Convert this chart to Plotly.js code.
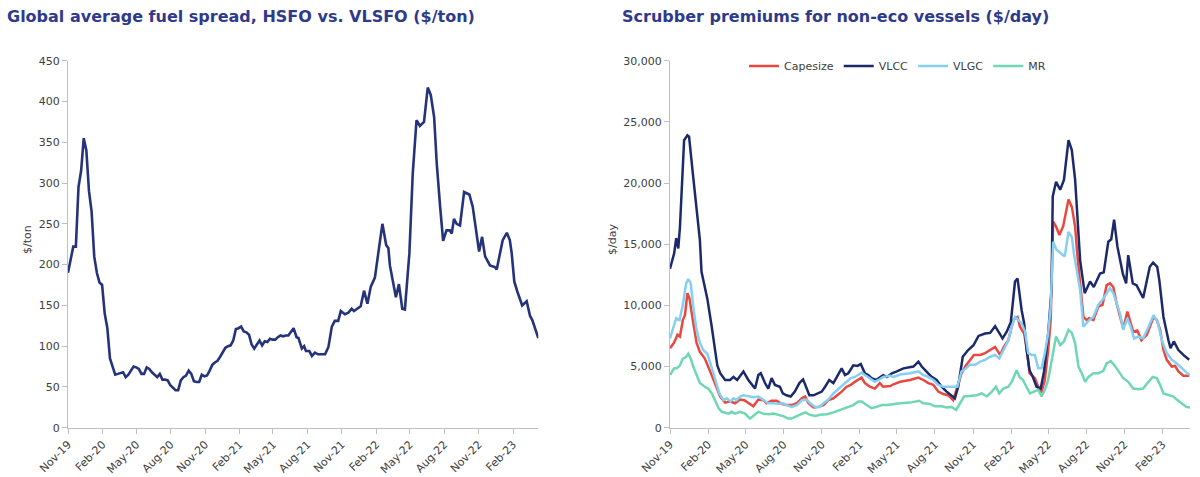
<!DOCTYPE html>
<html>
<head>
<meta charset="utf-8">
<script src="https://cdn.plot.ly/plotly-3.0.1.min.js"></script>
<style>html,body{margin:0;padding:0;background:#fff;}#chart{width:1200px;height:477px;}</style>
</head>
<body>
<div id="chart"></div>
<script>
// ---- Data (days since 2019-11-01) ----
const spreadDays = [0,7,14,21,28,35,42,49,56,63,70,77,84,91,98,105,112,119,126,133,140,147,154,161,168,175,182,189,196,203,210,217,224,231,238,245,252,259,266,273,280,287,294,301,308,315,322,329,336,343,350,357,364,371,378,385,392,399,406,413,420,427,434,441,448,455,462,469,476,483,490,497,504,511,518,525,532,539,546,553,560,567,574,581,588,595,602,
610,615,624,630,635,644,651,659,667,686,695,704,712,721,728,739,748,757,763,772,781,790,799,808,819,828,839,849,855,859,868,875,883,892,899,911,920,930,939,950,960,968,977,984,993,1001,1010,1019,1024,1030,1037,1046,1057,1071,1080,1090,1097,1105,1113,1126,1139,1144,1153,1160,1171,1179,1184,1191,1199,1212,1224,1233,1239,1255];
const spreadVals = [190,205,222,222,295,315,355,340,290,265,210,190,178,175,140,122,85,75,65,66,67,68,62,65,70,75,74,72,66,66,74,72,68,65,62,66,59,59,58,52,49,46,46,58,62,64,70,66,57,56,56,65,63,64,70,77,80,82,87,92,98,100,101,107,121,122,124,118,117,114,102,97,102,107,101,106,105,109,108,108,111,113,112,113,113,118,122,
111,110,97,100,94,94,88,92,90,90,99,124,131,131,143,139,141,146,143,146,149,168,152,173,184,214,250,224,220,199,175,160,176,146,145,214,312,377,370,375,417,408,381,324,271,229,242,242,238,256,250,248,289,286,271,240,216,234,210,199,197,194,212,230,239,230,214,179,167,150,155,137,132,110];

const vlccDays = [0,10,15,20,24,34,42,46,55,64,72,76,84,90,100,108,114,121,133,145,153,162,177,189,205,213,219,229,237,245,253,265,272,281,291,301,312,321,330,336,346,358,366,374,384,394,404,414,422,430,442,452,460,470,478,486,497,506,514,523,535,547,555,563,587,599,607,619,631,643,655,667,679,687,695,706,719,732,744,760,772,784,792,802,812,822,832,838,848,854,860,867,875,884,894,902,912,920,923,931,941,950,961,969,977,985,989,1000,1013,1022,1037,1046,1057,1064,1071,1079,1092,1100,1105,1116,1125,1141,1157,1165,1175,1180,1190,1202,1207,1215,1226,1238,1252];
const vlccVals = [13000,14250,15500,14650,16400,23500,23900,23800,20800,18050,15350,12750,11500,10550,8400,6500,5100,4450,3900,3900,4150,3900,4600,3900,3200,4300,4450,3650,3200,4050,3500,3350,2800,2650,2550,2950,3650,3950,3200,2650,2650,2800,2950,3350,3900,3650,4300,4850,4300,4450,5100,5050,5200,4450,4300,4050,3900,4150,4300,4150,4450,4600,4700,4850,5000,5400,5000,4600,4150,3900,3350,2950,2650,2400,3350,5800,6350,6750,7500,7700,7750,8300,7850,7300,7850,8650,11950,12200,9600,8550,6350,4700,4150,3350,3200,4600,7700,11250,18900,20100,19450,20250,23500,22700,20250,15350,13700,11000,11950,11500,12600,12700,15200,15400,17000,14800,12600,11800,14100,11800,11650,10600,13150,13500,13150,12050,9050,7150,6500,7050,6350,5950,5550];

const capeDays = [0,10,18,24,31,36,42,47,55,64,72,84,97,109,121,133,145,157,169,179,193,201,213,225,233,245,257,269,281,293,306,318,326,334,346,358,370,382,394,404,414,426,436,446,454,462,470,482,494,506,514,531,539,555,579,599,611,623,635,647,659,671,683,693,703,714,723,733,748,760,772,784,796,805,816,828,838,844,854,862,867,872,880,891,896,904,912,918,924,931,939,948,961,969,977,982,989,997,1005,1011,1021,1033,1043,1053,1061,1069,1077,1085,1093,1103,1109,1117,1127,1137,1150,1158,1166,1174,1182,1190,1198,1210,1218,1226,1238,1252];
const capeVals = [6500,6950,7600,7450,8800,9200,11000,10550,8800,6950,6200,5650,4600,3500,2550,2050,2150,2000,2300,2250,1950,1750,2300,2250,2000,2200,2200,1950,1850,1850,2000,2400,2550,2000,1650,1700,1850,2250,2400,2650,2950,3350,3500,3750,3900,4100,3650,3350,3200,3650,3350,3400,3550,3750,3900,4100,3900,3650,3500,2950,2750,2650,2250,3350,4450,5100,5550,5950,5950,6100,6350,6600,5950,6600,7150,8800,9050,8250,7700,6100,4450,4300,4050,3100,2950,3900,6350,8800,16850,16450,15750,16450,18650,18050,16450,14250,11500,9050,8800,8950,8800,9900,10050,11650,11800,11500,10150,9050,8100,9500,8800,7850,7950,7150,7600,8400,9050,8800,8000,6350,5550,5000,5050,4600,4250,4250];

const vlgcDays = [0,8,15,23,31,39,44,50,56,64,72,80,90,99,109,119,129,137,146,153,161,169,177,189,201,213,225,237,249,261,273,281,293,306,318,330,338,350,362,370,382,394,404,414,426,436,446,454,462,470,482,494,503,514,531,539,555,579,599,611,623,635,647,659,671,683,693,703,714,723,736,748,760,772,784,794,804,816,824,832,840,848,856,864,872,880,888,896,904,912,918,924,932,944,952,961,969,974,989,997,1005,1011,1021,1033,1043,1053,1061,1069,1077,1085,1093,1103,1111,1119,1129,1141,1154,1166,1176,1186,1198,1210,1222,1234,1246,1254];
const vlgcVals = [7300,8100,8950,8800,10050,11800,12150,11800,9900,8000,6950,6350,6050,5100,3900,2800,2250,2400,2150,2400,2250,2550,2650,2550,2500,2550,2250,2000,2000,1950,2000,1850,1700,1850,2250,2300,2000,1700,1700,2000,2300,2800,3100,3400,3750,4050,4150,4300,4500,4300,4050,3750,3900,4150,4250,4150,4350,4450,4600,4300,4150,3900,3500,3350,3350,3350,3350,4600,4850,5150,5150,5400,5550,5800,5950,5650,6350,7150,8250,9050,8800,8550,7850,6100,5950,5950,4850,4850,6100,7700,9900,15200,14550,14250,14000,16000,15600,14250,11250,8250,8550,8800,9050,10050,10450,11000,11400,11000,10150,9350,8000,8950,8250,7300,7450,7300,8250,9200,8650,7150,6100,5550,5250,4850,4500,4300];

const mrDays = [0,10,16,23,31,39,44,50,56,64,72,84,92,101,109,117,125,133,141,149,157,169,181,193,199,205,213,225,237,249,261,273,285,293,306,318,326,338,350,362,378,394,410,426,442,454,462,474,486,498,511,523,539,555,579,601,611,627,639,655,667,679,690,699,709,723,740,752,764,776,786,794,804,816,824,836,843,851,860,868,878,888,896,904,912,920,931,941,950,961,969,977,985,993,1001,1009,1021,1033,1045,1053,1063,1073,1084,1093,1105,1117,1130,1141,1154,1164,1174,1182,1190,1202,1214,1222,1234,1245,1254];
const mrVals = [4300,4850,4850,5050,5650,5800,6050,5650,5000,4300,3650,3350,3200,2800,2250,1600,1300,1250,1150,1300,1150,1300,1150,750,900,1100,1300,1150,1100,1150,1050,950,750,750,950,1150,1250,1050,950,1050,1100,1250,1450,1700,1850,2150,2150,1850,1600,1700,1850,1850,1950,2000,2050,2200,2000,1950,1750,1750,1650,1700,1450,2000,2550,2600,2650,2800,2550,2950,3350,2800,3200,3350,3750,4700,4150,3900,3350,2800,2950,3100,2550,3100,3900,5550,7450,6750,7050,8000,7750,6900,5000,4450,3750,4150,4450,4450,4650,5250,5450,5050,4450,4050,3750,3200,3150,3200,3750,4150,4050,3500,2800,2650,2550,2300,2000,1700,1650];

const tickDates = ['2019-11-01','2020-02-01','2020-05-01','2020-08-01','2020-11-01','2021-02-01','2021-05-01','2021-08-01','2021-11-01','2022-02-01','2022-05-01','2022-08-01','2022-11-01','2023-02-01'];
const tickLabels = ['Nov-19','Feb-20','May-20','Aug-20','Nov-20','Feb-21','May-21','Aug-21','Nov-21','Feb-22','May-22','Aug-22','Nov-22','Feb-23'];

const leftTitle = 'Global average fuel spread, HSFO vs. VLSFO ($/ton)';
const rightTitle = 'Scrubber premiums for non-eco vessels ($/day)';

// ---- helpers ----
const BASE = Date.UTC(2019, 10, 1);
function toDates(days) { return days.map(d => new Date(BASE + d * 86400000).toISOString().slice(0, 10)); }

const FONT = '"DejaVu Sans", Verdana, sans-serif';
const TICKCOL = '#404040';
const AXCOL = '#bfbfbf';

const traces = [
  {x: toDates(spreadDays), y: spreadVals, xaxis: 'x', yaxis: 'y', mode: 'lines', name: 'Spread', showlegend: false,
   line: {color: '#25337a', width: 2.6}},
  {x: toDates(capeDays), y: capeVals, xaxis: 'x2', yaxis: 'y2', mode: 'lines', name: 'Capesize', line: {color: '#e8483f', width: 2.5}},
  {x: toDates(vlccDays), y: vlccVals, xaxis: 'x2', yaxis: 'y2', mode: 'lines', name: 'VLCC', line: {color: '#1c2a6b', width: 2.5}},
  {x: toDates(vlgcDays), y: vlgcVals, xaxis: 'x2', yaxis: 'y2', mode: 'lines', name: 'VLGC', line: {color: '#86cff2', width: 2.5}},
  {x: toDates(mrDays), y: mrVals, xaxis: 'x2', yaxis: 'y2', mode: 'lines', name: 'MR', line: {color: '#70d7b3', width: 2.5}}
];
const xCommon = {type: 'date', tickmode: 'array', tickvals: tickDates, ticktext: tickLabels, tickangle: -45,
  showline: true, linecolor: AXCOL, linewidth: 1, ticks: 'outside', ticklen: 5, tickcolor: AXCOL,
  showgrid: false, zeroline: false, tickfont: {family: FONT, size: 11, color: TICKCOL}, fixedrange: true};
const yCommon = {showline: true, linecolor: AXCOL, linewidth: 1, ticks: 'outside', ticklen: 5, tickcolor: AXCOL,
  showgrid: false, zeroline: false, tickfont: {family: FONT, size: 11, color: TICKCOL}, fixedrange: true};

const W = 1200, H = 477;
const layout = {
  width: W, height: H, margin: {l: 0, r: 0, t: 0, b: 0}, paper_bgcolor: '#fff', plot_bgcolor: '#fff',
  font: {family: FONT, color: TICKCOL},
  xaxis: Object.assign({}, xCommon, {domain: [68 / W, 538.3 / W], range: ['2019-11-01', '2023-04-09'], anchor: 'y'}),
  yaxis: Object.assign({}, yCommon, {domain: [49.3 / H, 416.3 / H], range: [0, 450], dtick: 50, anchor: 'x'}),
  xaxis2: Object.assign({}, xCommon, {domain: [670 / W, 1190 / W], range: ['2019-11-01', '2023-04-08'], anchor: 'y2'}),
  yaxis2: Object.assign({}, yCommon, {domain: [49.3 / H, 416.3 / H], range: [0, 30000], dtick: 5000, tickformat: ',d', anchor: 'x2'}),
  showlegend: true,
  legend: {orientation: 'h', x: 744 / W, xanchor: 'left', y: (H - 66) / H, yanchor: 'middle',
    font: {family: FONT, size: 11, color: TICKCOL}, bgcolor: 'rgba(0,0,0,0)', traceorder: 'normal'},
  annotations: [
    {text: '<b>' + leftTitle + '</b>', xref: 'paper', yref: 'paper', x: 5 / W, y: (H - 16) / H, xanchor: 'left', yanchor: 'middle',
     showarrow: false, font: {family: FONT, size: 16, color: '#2e3a8c'}},
    {text: '<b>' + rightTitle + '</b>', xref: 'paper', yref: 'paper', x: 620 / W, y: (H - 16) / H, xanchor: 'left', yanchor: 'middle',
     showarrow: false, font: {family: FONT, size: 16, color: '#2e3a8c'}},
    {text: '$/ton', xref: 'paper', yref: 'paper', x: 27 / W, y: (H - 240) / H, xanchor: 'center', yanchor: 'middle', textangle: -90,
     showarrow: false, font: {family: FONT, size: 11, color: TICKCOL}},
    {text: '$/day', xref: 'paper', yref: 'paper', x: 612 / W, y: (H - 240) / H, xanchor: 'center', yanchor: 'middle', textangle: -90,
     showarrow: false, font: {family: FONT, size: 11, color: TICKCOL}}
  ]
};
Plotly.newPlot('chart', traces, layout, {displayModeBar: false, staticPlot: true});
</script>
</body>
</html>
